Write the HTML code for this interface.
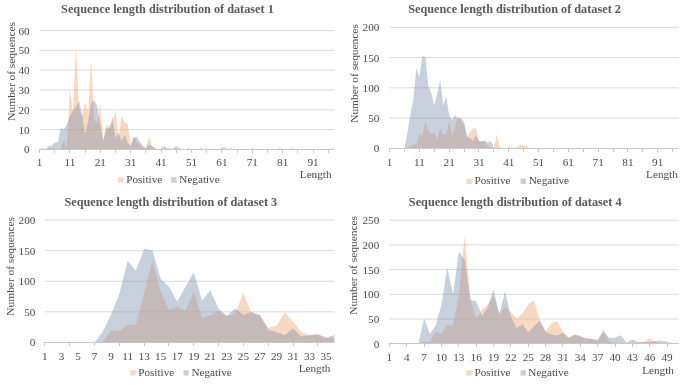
<!DOCTYPE html>
<html><head><meta charset="utf-8"><title>Sequence length distributions</title>
<style>
html,body{margin:0;padding:0;background:#fff;}
body{width:685px;height:385px;overflow:hidden;}
svg{display:block;will-change:transform;}
.t{font-family:"Liberation Serif",serif;font-size:11.2px;fill:#4A4A4A;}
.yl{font-size:11.4px;}
.ti{font-family:"Liberation Serif",serif;font-size:12.25px;font-weight:bold;fill:#595959;}
</style></head>
<body>
<svg width="685" height="385" viewBox="0 0 685 385">
<rect width="685" height="385" fill="#fff"/>
<line x1="39.5" y1="129.6" x2="334.1" y2="129.6" stroke="#D9D9D9" stroke-width="1"/>
<line x1="39.5" y1="109.8" x2="334.1" y2="109.8" stroke="#D9D9D9" stroke-width="1"/>
<line x1="39.5" y1="90" x2="334.1" y2="90" stroke="#D9D9D9" stroke-width="1"/>
<line x1="39.5" y1="70.2" x2="334.1" y2="70.2" stroke="#D9D9D9" stroke-width="1"/>
<line x1="39.5" y1="50.4" x2="334.1" y2="50.4" stroke="#D9D9D9" stroke-width="1"/>
<line x1="39.5" y1="30.6" x2="334.1" y2="30.6" stroke="#D9D9D9" stroke-width="1"/>
<path d="M39.5,149.4 L39.5,149.4 42.54,149.4 45.58,149.4 48.62,148.61 51.66,148.21 54.7,148.21 57.74,149.4 60.78,149.4 63.82,139.9 66.86,149.4 69.9,88.61 72.94,111.78 75.98,44.46 79.02,109.8 82.06,115.74 85.1,102.67 88.14,111.78 91.18,59.31 94.22,119.7 97.26,123.26 100.3,104.06 103.34,140.69 106.38,124.06 109.42,127.03 112.46,122.27 115.5,110.2 118.54,138.31 121.58,116.73 124.62,122.27 127.66,124.06 130.7,145.04 133.74,136.33 136.78,141.88 139.82,145.04 142.86,147.42 145.9,148.41 148.94,136.73 151.98,146.23 155.02,148.41 158.06,149.4 161.1,149.4 164.14,148.81 167.18,148.81 170.22,147.82 173.26,148.81 176.3,148.81 179.34,148.01 182.38,149.4 185.42,149.4 188.46,149.4 191.5,149.4 194.54,149.4 197.58,149.4 200.62,149.4 203.66,149.4 206.7,148.01 209.74,149.4 212.78,149.4 215.82,149.4 218.86,149.4 221.9,149.4 224.94,149.4 227.98,149.4 231.02,149.4 234.06,149.4 237.1,149.4 240.14,149.4 243.18,149.4 246.22,149.4 249.26,149.4 252.3,148.01 255.34,149.4 258.38,149.4 261.42,149.4 264.46,149.4 267.5,149.4 270.54,149.4 273.58,149.4 276.62,149.4 279.66,149.4 282.7,149.4 285.74,149.4 288.78,149.4 291.82,149.4 294.86,149.4 297.9,149.4 300.94,149.4 303.98,149.4 307.02,149.4 310.06,149.4 313.1,149.4 316.14,149.4 319.18,149.4 322.22,149.4 325.26,149.4 328.3,149.4 331.34,149.4 334.38,147.82 L334.38,149.4 Z" fill="#F4B183" fill-opacity="0.5"/>
<path d="M39.5,149.4 L39.5,149.4 42.54,147.82 45.58,149.4 48.62,146.03 51.66,145.84 54.7,142.67 57.74,142.27 60.78,128.02 63.82,129.6 66.86,124.45 69.9,116.14 72.94,110.59 75.98,106.83 79.02,100.89 82.06,114.16 85.1,134.75 88.14,121.28 91.18,103.27 94.22,100.3 97.26,106.24 100.3,124.85 103.34,140.49 106.38,128.21 109.42,128.21 112.46,116.73 115.5,138.31 118.54,132.77 121.58,141.28 124.62,134.55 127.66,143.06 130.7,145.64 133.74,137.72 136.78,136.73 139.82,141.88 142.86,145.64 145.9,148.21 148.94,144.45 151.98,146.23 155.02,148.21 158.06,149.4 161.1,149.4 164.14,146.03 167.18,148.21 170.22,149.4 173.26,148.41 176.3,146.03 179.34,148.81 182.38,149.4 185.42,149.4 188.46,148.01 191.5,149.4 194.54,149.4 197.58,149.4 200.62,148.01 203.66,149.4 206.7,149.4 209.74,149.4 212.78,149.4 215.82,149.4 218.86,149.4 221.9,147.42 224.94,147.42 227.98,149.4 231.02,148.01 234.06,149.4 237.1,149.4 240.14,149.4 243.18,149.4 246.22,149.4 249.26,149.4 252.3,149.4 255.34,149.4 258.38,149.4 261.42,149.4 264.46,149.4 267.5,149.4 270.54,149.4 273.58,149.4 276.62,149.4 279.66,148.01 282.7,149.4 285.74,149.4 288.78,149.4 291.82,148.01 294.86,149.4 297.9,149.4 300.94,149.4 303.98,149.4 307.02,149.4 310.06,149.4 313.1,149.4 316.14,149.4 319.18,149.4 322.22,149.4 325.26,149.4 328.3,149.4 331.34,149.4 334.38,149.4 L334.38,149.4 Z" fill="#8497B0" fill-opacity="0.45"/>
<line x1="39" y1="149.5" x2="334.1" y2="149.5" stroke="#C8C8C8" stroke-width="1"/>
<line x1="39.5" y1="150" x2="39.5" y2="153" stroke="#C8C8C8" stroke-width="1"/>
<line x1="54.5" y1="150" x2="54.5" y2="153" stroke="#C8C8C8" stroke-width="1"/>
<line x1="69.5" y1="150" x2="69.5" y2="153" stroke="#C8C8C8" stroke-width="1"/>
<line x1="85.5" y1="150" x2="85.5" y2="153" stroke="#C8C8C8" stroke-width="1"/>
<line x1="100.5" y1="150" x2="100.5" y2="153" stroke="#C8C8C8" stroke-width="1"/>
<line x1="115.5" y1="150" x2="115.5" y2="153" stroke="#C8C8C8" stroke-width="1"/>
<line x1="130.5" y1="150" x2="130.5" y2="153" stroke="#C8C8C8" stroke-width="1"/>
<line x1="145.5" y1="150" x2="145.5" y2="153" stroke="#C8C8C8" stroke-width="1"/>
<line x1="161.5" y1="150" x2="161.5" y2="153" stroke="#C8C8C8" stroke-width="1"/>
<line x1="176.5" y1="150" x2="176.5" y2="153" stroke="#C8C8C8" stroke-width="1"/>
<line x1="191.5" y1="150" x2="191.5" y2="153" stroke="#C8C8C8" stroke-width="1"/>
<line x1="206.5" y1="150" x2="206.5" y2="153" stroke="#C8C8C8" stroke-width="1"/>
<line x1="221.5" y1="150" x2="221.5" y2="153" stroke="#C8C8C8" stroke-width="1"/>
<line x1="237.5" y1="150" x2="237.5" y2="153" stroke="#C8C8C8" stroke-width="1"/>
<line x1="252.5" y1="150" x2="252.5" y2="153" stroke="#C8C8C8" stroke-width="1"/>
<line x1="267.5" y1="150" x2="267.5" y2="153" stroke="#C8C8C8" stroke-width="1"/>
<line x1="282.5" y1="150" x2="282.5" y2="153" stroke="#C8C8C8" stroke-width="1"/>
<line x1="297.5" y1="150" x2="297.5" y2="153" stroke="#C8C8C8" stroke-width="1"/>
<line x1="313.5" y1="150" x2="313.5" y2="153" stroke="#C8C8C8" stroke-width="1"/>
<line x1="328.5" y1="150" x2="328.5" y2="153" stroke="#C8C8C8" stroke-width="1"/>
<text x="29.7" y="153.3" text-anchor="end" class="t">0</text>
<text x="29.7" y="133.5" text-anchor="end" class="t">10</text>
<text x="29.7" y="113.7" text-anchor="end" class="t">20</text>
<text x="29.7" y="93.9" text-anchor="end" class="t">30</text>
<text x="29.7" y="74.1" text-anchor="end" class="t">40</text>
<text x="29.7" y="54.3" text-anchor="end" class="t">50</text>
<text x="29.7" y="34.5" text-anchor="end" class="t">60</text>
<text x="39.5" y="166.4" text-anchor="middle" class="t">1</text>
<text x="69.9" y="166.4" text-anchor="middle" class="t">11</text>
<text x="100.3" y="166.4" text-anchor="middle" class="t">21</text>
<text x="130.7" y="166.4" text-anchor="middle" class="t">31</text>
<text x="161.1" y="166.4" text-anchor="middle" class="t">41</text>
<text x="191.5" y="166.4" text-anchor="middle" class="t">51</text>
<text x="221.9" y="166.4" text-anchor="middle" class="t">61</text>
<text x="252.3" y="166.4" text-anchor="middle" class="t">71</text>
<text x="282.7" y="166.4" text-anchor="middle" class="t">81</text>
<text x="313.1" y="166.4" text-anchor="middle" class="t">91</text>
<text x="167.45" y="13" text-anchor="middle" class="ti">Sequence length distribution of dataset 1</text>
<text transform="translate(15.3,71.3) rotate(-90)" text-anchor="middle" class="t yl">Number of sequences</text>
<rect x="118" y="177.2" width="5.4" height="5.4" fill="#F4B183" fill-opacity="0.5"/>
<text x="126.2" y="182.7" class="t">Positive</text>
<rect x="171.1" y="177.2" width="5.4" height="5.4" fill="#8497B0" fill-opacity="0.45"/>
<text x="179.3" y="182.7" class="t">Negative</text>
<text x="331.5" y="178.3" text-anchor="end" class="t">Length</text>
<line x1="389.6" y1="118.08" x2="678.6" y2="118.08" stroke="#D9D9D9" stroke-width="1"/>
<line x1="389.6" y1="87.85" x2="678.6" y2="87.85" stroke="#D9D9D9" stroke-width="1"/>
<line x1="389.6" y1="57.62" x2="678.6" y2="57.62" stroke="#D9D9D9" stroke-width="1"/>
<line x1="389.6" y1="27.4" x2="678.6" y2="27.4" stroke="#D9D9D9" stroke-width="1"/>
<path d="M389.6,148.3 L389.6,148.3 392.58,148.3 395.56,148.3 398.54,148.3 401.52,148.3 404.5,148.3 407.47,147.33 410.45,145.88 413.43,144.49 416.41,144.49 419.39,133.79 422.37,136.51 425.35,121.4 428.33,130.77 431.31,133.79 434.29,133.01 437.26,139.41 440.24,127.93 443.22,135.12 446.2,134.4 449.18,120.67 452.16,135.91 455.14,126.54 458.12,115.66 461.1,120.19 464.08,125.33 467.05,136.81 470.03,132.58 473.01,128.17 475.99,128.17 478.97,141.35 481.95,141.35 484.93,142.56 487.91,146.31 490.89,147.27 493.87,148 496.84,134.4 499.82,147.51 502.8,148 505.78,148 508.76,146.79 511.74,147.51 514.72,147.51 517.7,146.67 520.68,144.43 523.65,145.58 526.63,146.18 529.61,148 532.59,148.3 535.57,148.3 538.55,148.3 541.53,148.3 544.51,148.3 547.49,148.3 550.47,148.3 553.45,148.3 556.42,148.3 559.4,148.3 562.38,148.3 565.36,148.3 568.34,148.3 571.32,148.3 574.3,148.3 577.28,147.39 580.26,148.3 583.24,148.3 586.21,148.3 589.19,148.3 592.17,147.39 595.15,148.3 598.13,148.3 601.11,148.3 604.09,148.3 607.07,148.3 610.05,148.3 613.03,148.3 616,148.3 618.98,148.3 621.96,148.3 624.94,148.3 627.92,148.3 630.9,148.3 633.88,148.3 636.86,148.3 639.84,148.3 642.82,148.3 645.79,148.3 648.77,148.3 651.75,148.3 654.73,148.3 657.71,148.3 660.69,148.3 663.67,148.3 666.65,148.3 669.63,148.3 672.61,148.3 675.58,148.3 678.56,148.3 L678.56,148.3 Z" fill="#F4B183" fill-opacity="0.5"/>
<path d="M389.6,148.3 L389.6,148.3 392.58,148.3 395.56,148.3 398.54,148.3 401.52,148.3 404.5,148.3 407.47,132.58 410.45,114.45 413.43,98.73 416.41,67.9 419.39,76.97 422.37,55.99 425.35,57.26 428.33,85.43 431.31,93.29 434.29,105.56 437.26,93.9 440.24,79.39 443.22,105.56 446.2,96.49 449.18,115.66 452.16,120.01 455.14,115.05 458.12,118.98 461.1,118.08 464.08,121.7 467.05,136.63 470.03,137.84 473.01,140.74 475.99,135 478.97,141.35 481.95,141.35 484.93,140.14 487.91,142.56 490.89,140.74 493.87,148.3 496.84,148.3 499.82,148.3 502.8,148.3 505.78,148.3 508.76,148.3 511.74,148.3 514.72,148.3 517.7,148.3 520.68,148.3 523.65,148.3 526.63,148.3 529.61,148.3 532.59,148.3 535.57,148.3 538.55,148.3 541.53,148.3 544.51,148.3 547.49,148.3 550.47,148.3 553.45,148.3 556.42,148.3 559.4,148.3 562.38,148.3 565.36,148.3 568.34,148.3 571.32,148.3 574.3,148.3 577.28,148.3 580.26,148.3 583.24,148.3 586.21,148.3 589.19,148.3 592.17,148.3 595.15,148.3 598.13,148.3 601.11,148.3 604.09,148.3 607.07,148.3 610.05,148.3 613.03,148.3 616,148.3 618.98,148.3 621.96,148.3 624.94,148.3 627.92,148.3 630.9,148.3 633.88,148.3 636.86,148.3 639.84,148.3 642.82,148.3 645.79,148.3 648.77,148.3 651.75,148.3 654.73,148.3 657.71,148.3 660.69,148.3 663.67,148.3 666.65,148.3 669.63,148.3 672.61,148.3 675.58,148.3 678.56,148.3 L678.56,148.3 Z" fill="#8497B0" fill-opacity="0.45"/>
<line x1="389.1" y1="148.5" x2="678.6" y2="148.5" stroke="#C8C8C8" stroke-width="1"/>
<line x1="389.5" y1="149" x2="389.5" y2="152" stroke="#C8C8C8" stroke-width="1"/>
<line x1="404.5" y1="149" x2="404.5" y2="152" stroke="#C8C8C8" stroke-width="1"/>
<line x1="419.5" y1="149" x2="419.5" y2="152" stroke="#C8C8C8" stroke-width="1"/>
<line x1="434.5" y1="149" x2="434.5" y2="152" stroke="#C8C8C8" stroke-width="1"/>
<line x1="449.5" y1="149" x2="449.5" y2="152" stroke="#C8C8C8" stroke-width="1"/>
<line x1="464.5" y1="149" x2="464.5" y2="152" stroke="#C8C8C8" stroke-width="1"/>
<line x1="478.5" y1="149" x2="478.5" y2="152" stroke="#C8C8C8" stroke-width="1"/>
<line x1="493.5" y1="149" x2="493.5" y2="152" stroke="#C8C8C8" stroke-width="1"/>
<line x1="508.5" y1="149" x2="508.5" y2="152" stroke="#C8C8C8" stroke-width="1"/>
<line x1="523.5" y1="149" x2="523.5" y2="152" stroke="#C8C8C8" stroke-width="1"/>
<line x1="538.5" y1="149" x2="538.5" y2="152" stroke="#C8C8C8" stroke-width="1"/>
<line x1="553.5" y1="149" x2="553.5" y2="152" stroke="#C8C8C8" stroke-width="1"/>
<line x1="568.5" y1="149" x2="568.5" y2="152" stroke="#C8C8C8" stroke-width="1"/>
<line x1="583.5" y1="149" x2="583.5" y2="152" stroke="#C8C8C8" stroke-width="1"/>
<line x1="598.5" y1="149" x2="598.5" y2="152" stroke="#C8C8C8" stroke-width="1"/>
<line x1="613.5" y1="149" x2="613.5" y2="152" stroke="#C8C8C8" stroke-width="1"/>
<line x1="627.5" y1="149" x2="627.5" y2="152" stroke="#C8C8C8" stroke-width="1"/>
<line x1="642.5" y1="149" x2="642.5" y2="152" stroke="#C8C8C8" stroke-width="1"/>
<line x1="657.5" y1="149" x2="657.5" y2="152" stroke="#C8C8C8" stroke-width="1"/>
<line x1="672.5" y1="149" x2="672.5" y2="152" stroke="#C8C8C8" stroke-width="1"/>
<text x="379.4" y="152.2" text-anchor="end" class="t">0</text>
<text x="379.4" y="121.98" text-anchor="end" class="t">50</text>
<text x="379.4" y="91.75" text-anchor="end" class="t">100</text>
<text x="379.4" y="61.52" text-anchor="end" class="t">150</text>
<text x="379.4" y="31.3" text-anchor="end" class="t">200</text>
<text x="389.6" y="165.8" text-anchor="middle" class="t">1</text>
<text x="419.39" y="165.8" text-anchor="middle" class="t">11</text>
<text x="449.18" y="165.8" text-anchor="middle" class="t">21</text>
<text x="478.97" y="165.8" text-anchor="middle" class="t">31</text>
<text x="508.76" y="165.8" text-anchor="middle" class="t">41</text>
<text x="538.55" y="165.8" text-anchor="middle" class="t">51</text>
<text x="568.34" y="165.8" text-anchor="middle" class="t">61</text>
<text x="598.13" y="165.8" text-anchor="middle" class="t">71</text>
<text x="627.92" y="165.8" text-anchor="middle" class="t">81</text>
<text x="657.71" y="165.8" text-anchor="middle" class="t">91</text>
<text x="514.6" y="12.9" text-anchor="middle" class="ti">Sequence length distribution of dataset 2</text>
<text transform="translate(357.8,73.5) rotate(-90)" text-anchor="middle" class="t yl">Number of sequences</text>
<rect x="466.3" y="178.6" width="5.4" height="5.4" fill="#F4B183" fill-opacity="0.5"/>
<text x="474.5" y="183.7" class="t">Positive</text>
<rect x="520.5" y="178.6" width="5.4" height="5.4" fill="#8497B0" fill-opacity="0.45"/>
<text x="528.7" y="183.7" class="t">Negative</text>
<text x="677.8" y="177.8" text-anchor="end" class="t">Length</text>
<line x1="44.9" y1="311.88" x2="334.3" y2="311.88" stroke="#D9D9D9" stroke-width="1"/>
<line x1="44.9" y1="281.25" x2="334.3" y2="281.25" stroke="#D9D9D9" stroke-width="1"/>
<line x1="44.9" y1="250.62" x2="334.3" y2="250.62" stroke="#D9D9D9" stroke-width="1"/>
<line x1="44.9" y1="220" x2="334.3" y2="220" stroke="#D9D9D9" stroke-width="1"/>
<path d="M44.9,342.5 L44.9,342.5 53.17,342.5 61.44,342.5 69.71,342.5 77.98,342.5 86.25,342.5 94.53,342.5 102.8,341.27 111.07,330.25 119.34,331.17 127.61,324.43 135.88,324.74 144.15,293.5 152.42,260.43 160.69,291.66 168.97,309.73 177.24,306.98 185.51,310.89 193.78,291.48 202.05,317.39 210.32,315.55 218.59,310.89 226.86,316.16 235.13,313.71 243.4,292.89 251.68,313.1 259.95,315.24 268.22,327.8 276.49,325.96 284.76,312.24 293.03,321.68 301.3,331.66 309.57,335.76 317.84,334.17 326.11,338.09 334.38,338.09 L334.38,342.5 Z" fill="#F4B183" fill-opacity="0.5"/>
<path d="M44.9,342.5 L44.9,342.5 53.17,342.5 61.44,342.5 69.71,342.5 77.98,342.5 86.25,342.5 94.53,342.5 102.8,331.48 111.07,314.51 119.34,294.11 127.61,261.04 135.88,270.53 144.15,248.91 152.42,250.13 160.69,278.8 168.97,286.76 177.24,301.46 185.51,286.76 193.78,272.37 202.05,300.85 210.32,290.13 218.59,308.81 226.86,315.86 235.13,308.38 243.4,314.94 251.68,311.88 259.95,315.12 268.22,330 276.49,332.27 284.76,334.9 293.03,328.41 301.3,336.38 309.57,334.9 317.84,334.17 326.11,337.66 334.38,334.9 L334.38,342.5 Z" fill="#8497B0" fill-opacity="0.45"/>
<line x1="44.4" y1="342.5" x2="334.3" y2="342.5" stroke="#C8C8C8" stroke-width="1"/>
<line x1="44.5" y1="343" x2="44.5" y2="346" stroke="#C8C8C8" stroke-width="1"/>
<line x1="69.5" y1="343" x2="69.5" y2="346" stroke="#C8C8C8" stroke-width="1"/>
<line x1="94.5" y1="343" x2="94.5" y2="346" stroke="#C8C8C8" stroke-width="1"/>
<line x1="119.5" y1="343" x2="119.5" y2="346" stroke="#C8C8C8" stroke-width="1"/>
<line x1="144.5" y1="343" x2="144.5" y2="346" stroke="#C8C8C8" stroke-width="1"/>
<line x1="168.5" y1="343" x2="168.5" y2="346" stroke="#C8C8C8" stroke-width="1"/>
<line x1="193.5" y1="343" x2="193.5" y2="346" stroke="#C8C8C8" stroke-width="1"/>
<line x1="218.5" y1="343" x2="218.5" y2="346" stroke="#C8C8C8" stroke-width="1"/>
<line x1="243.5" y1="343" x2="243.5" y2="346" stroke="#C8C8C8" stroke-width="1"/>
<line x1="268.5" y1="343" x2="268.5" y2="346" stroke="#C8C8C8" stroke-width="1"/>
<line x1="293.5" y1="343" x2="293.5" y2="346" stroke="#C8C8C8" stroke-width="1"/>
<line x1="317.5" y1="343" x2="317.5" y2="346" stroke="#C8C8C8" stroke-width="1"/>
<text x="35.4" y="346.4" text-anchor="end" class="t">0</text>
<text x="35.4" y="315.77" text-anchor="end" class="t">50</text>
<text x="35.4" y="285.15" text-anchor="end" class="t">100</text>
<text x="35.4" y="254.53" text-anchor="end" class="t">150</text>
<text x="35.4" y="223.9" text-anchor="end" class="t">200</text>
<text x="44.9" y="360.2" text-anchor="middle" class="t">1</text>
<text x="61.44" y="360.2" text-anchor="middle" class="t">3</text>
<text x="77.98" y="360.2" text-anchor="middle" class="t">5</text>
<text x="94.53" y="360.2" text-anchor="middle" class="t">7</text>
<text x="111.07" y="360.2" text-anchor="middle" class="t">9</text>
<text x="127.61" y="360.2" text-anchor="middle" class="t">11</text>
<text x="144.15" y="360.2" text-anchor="middle" class="t">13</text>
<text x="160.69" y="360.2" text-anchor="middle" class="t">15</text>
<text x="177.24" y="360.2" text-anchor="middle" class="t">17</text>
<text x="193.78" y="360.2" text-anchor="middle" class="t">19</text>
<text x="210.32" y="360.2" text-anchor="middle" class="t">21</text>
<text x="226.86" y="360.2" text-anchor="middle" class="t">23</text>
<text x="243.4" y="360.2" text-anchor="middle" class="t">25</text>
<text x="259.95" y="360.2" text-anchor="middle" class="t">27</text>
<text x="276.49" y="360.2" text-anchor="middle" class="t">29</text>
<text x="293.03" y="360.2" text-anchor="middle" class="t">31</text>
<text x="309.57" y="360.2" text-anchor="middle" class="t">33</text>
<text x="326.11" y="360.2" text-anchor="middle" class="t">35</text>
<text x="170.85" y="206" text-anchor="middle" class="ti">Sequence length distribution of dataset 3</text>
<text transform="translate(13.9,266.3) rotate(-90)" text-anchor="middle" class="t yl">Number of sequences</text>
<rect x="130.2" y="370.2" width="5.4" height="5.4" fill="#F4B183" fill-opacity="0.5"/>
<text x="138.2" y="375.8" class="t">Positive</text>
<rect x="183.4" y="370.2" width="5.4" height="5.4" fill="#8497B0" fill-opacity="0.45"/>
<text x="191.4" y="375.8" class="t">Negative</text>
<text x="330.4" y="371.5" text-anchor="end" class="t">Length</text>
<line x1="389.4" y1="319" x2="678.8" y2="319" stroke="#D9D9D9" stroke-width="1"/>
<line x1="389.4" y1="294.3" x2="678.8" y2="294.3" stroke="#D9D9D9" stroke-width="1"/>
<line x1="389.4" y1="269.6" x2="678.8" y2="269.6" stroke="#D9D9D9" stroke-width="1"/>
<line x1="389.4" y1="244.9" x2="678.8" y2="244.9" stroke="#D9D9D9" stroke-width="1"/>
<line x1="389.4" y1="220.2" x2="678.8" y2="220.2" stroke="#D9D9D9" stroke-width="1"/>
<path d="M389.4,343.7 L389.4,343.7 395.19,343.7 400.97,343.7 406.75,343.7 412.54,343.7 418.32,343.7 424.11,341.72 429.89,341.97 435.68,331.84 441.46,334.02 447.25,324.43 453.03,325.92 458.82,295.78 464.6,236.5 470.39,298.25 476.17,318.51 481.96,310.11 487.75,304.67 493.53,295.78 499.31,313.57 505.1,306.9 510.88,312.08 516.67,318.51 522.45,313.57 528.24,304.18 534.02,300.23 539.81,320.48 545.6,331.84 551.38,323.45 557.16,321.22 562.95,331.84 568.74,337.77 574.52,334.81 580.3,336.78 586.09,339.01 591.88,339.01 597.66,341.23 603.44,329.37 609.23,341.72 615.01,343.21 620.8,343.21 626.59,343.21 632.37,343.21 638.15,342.71 643.94,341.72 649.72,338.07 655.51,341.97 661.29,343.21 667.08,343.21 672.87,343.45 678.65,343.45 L678.65,343.7 Z" fill="#F4B183" fill-opacity="0.5"/>
<path d="M389.4,343.7 L389.4,343.7 395.19,343.7 400.97,343.7 406.75,343.7 412.54,343.7 418.32,343.7 424.11,318.51 429.89,333.82 435.68,325.42 441.46,304.67 447.25,267.62 453.03,294.3 458.82,251.82 464.6,259.23 470.39,299.73 476.17,301.22 481.96,315.54 487.75,307.64 493.53,289.36 499.31,314.31 505.1,291.09 510.88,317.02 516.67,327.89 522.45,324.19 528.24,332.09 534.02,326.41 539.81,320.48 545.6,331.84 551.38,334.81 557.16,335.8 562.95,332.83 568.74,338.27 574.52,334.81 580.3,335.8 586.09,338.02 591.88,338.76 597.66,339.75 603.44,331.84 609.23,338.07 615.01,337.87 620.8,335.15 626.59,342.42 632.37,339.4 638.15,341.97 643.94,341.97 649.72,341.97 655.51,341.03 661.29,340.49 667.08,341.72 672.87,342.96 678.65,342.96 L678.65,343.7 Z" fill="#8497B0" fill-opacity="0.45"/>
<line x1="388.9" y1="343.5" x2="678.8" y2="343.5" stroke="#C8C8C8" stroke-width="1"/>
<line x1="389.5" y1="344" x2="389.5" y2="347" stroke="#C8C8C8" stroke-width="1"/>
<line x1="406.5" y1="344" x2="406.5" y2="347" stroke="#C8C8C8" stroke-width="1"/>
<line x1="424.5" y1="344" x2="424.5" y2="347" stroke="#C8C8C8" stroke-width="1"/>
<line x1="441.5" y1="344" x2="441.5" y2="347" stroke="#C8C8C8" stroke-width="1"/>
<line x1="458.5" y1="344" x2="458.5" y2="347" stroke="#C8C8C8" stroke-width="1"/>
<line x1="476.5" y1="344" x2="476.5" y2="347" stroke="#C8C8C8" stroke-width="1"/>
<line x1="493.5" y1="344" x2="493.5" y2="347" stroke="#C8C8C8" stroke-width="1"/>
<line x1="510.5" y1="344" x2="510.5" y2="347" stroke="#C8C8C8" stroke-width="1"/>
<line x1="528.5" y1="344" x2="528.5" y2="347" stroke="#C8C8C8" stroke-width="1"/>
<line x1="545.5" y1="344" x2="545.5" y2="347" stroke="#C8C8C8" stroke-width="1"/>
<line x1="562.5" y1="344" x2="562.5" y2="347" stroke="#C8C8C8" stroke-width="1"/>
<line x1="580.5" y1="344" x2="580.5" y2="347" stroke="#C8C8C8" stroke-width="1"/>
<line x1="597.5" y1="344" x2="597.5" y2="347" stroke="#C8C8C8" stroke-width="1"/>
<line x1="615.5" y1="344" x2="615.5" y2="347" stroke="#C8C8C8" stroke-width="1"/>
<line x1="632.5" y1="344" x2="632.5" y2="347" stroke="#C8C8C8" stroke-width="1"/>
<line x1="649.5" y1="344" x2="649.5" y2="347" stroke="#C8C8C8" stroke-width="1"/>
<line x1="667.5" y1="344" x2="667.5" y2="347" stroke="#C8C8C8" stroke-width="1"/>
<text x="379.3" y="347.6" text-anchor="end" class="t">0</text>
<text x="379.3" y="322.9" text-anchor="end" class="t">50</text>
<text x="379.3" y="298.2" text-anchor="end" class="t">100</text>
<text x="379.3" y="273.5" text-anchor="end" class="t">150</text>
<text x="379.3" y="248.8" text-anchor="end" class="t">200</text>
<text x="379.3" y="224.1" text-anchor="end" class="t">250</text>
<text x="389.4" y="360.9" text-anchor="middle" class="t">1</text>
<text x="406.75" y="360.9" text-anchor="middle" class="t">4</text>
<text x="424.11" y="360.9" text-anchor="middle" class="t">7</text>
<text x="441.46" y="360.9" text-anchor="middle" class="t">10</text>
<text x="458.82" y="360.9" text-anchor="middle" class="t">13</text>
<text x="476.17" y="360.9" text-anchor="middle" class="t">16</text>
<text x="493.53" y="360.9" text-anchor="middle" class="t">19</text>
<text x="510.88" y="360.9" text-anchor="middle" class="t">22</text>
<text x="528.24" y="360.9" text-anchor="middle" class="t">25</text>
<text x="545.6" y="360.9" text-anchor="middle" class="t">28</text>
<text x="562.95" y="360.9" text-anchor="middle" class="t">31</text>
<text x="580.3" y="360.9" text-anchor="middle" class="t">34</text>
<text x="597.66" y="360.9" text-anchor="middle" class="t">37</text>
<text x="615.01" y="360.9" text-anchor="middle" class="t">40</text>
<text x="632.37" y="360.9" text-anchor="middle" class="t">43</text>
<text x="649.72" y="360.9" text-anchor="middle" class="t">46</text>
<text x="667.08" y="360.9" text-anchor="middle" class="t">49</text>
<text x="515.2" y="206" text-anchor="middle" class="ti">Sequence length distribution of dataset 4</text>
<text transform="translate(357.1,265.4) rotate(-90)" text-anchor="middle" class="t yl">Number of sequences</text>
<rect x="466.3" y="370.2" width="5.4" height="5.4" fill="#F4B183" fill-opacity="0.5"/>
<text x="474.5" y="376.2" class="t">Positive</text>
<rect x="520.5" y="370.2" width="5.4" height="5.4" fill="#8497B0" fill-opacity="0.45"/>
<text x="528.3" y="376.2" class="t">Negative</text>
<text x="673.9" y="373.7" text-anchor="end" class="t">Length</text>
</svg>
</body></html>
